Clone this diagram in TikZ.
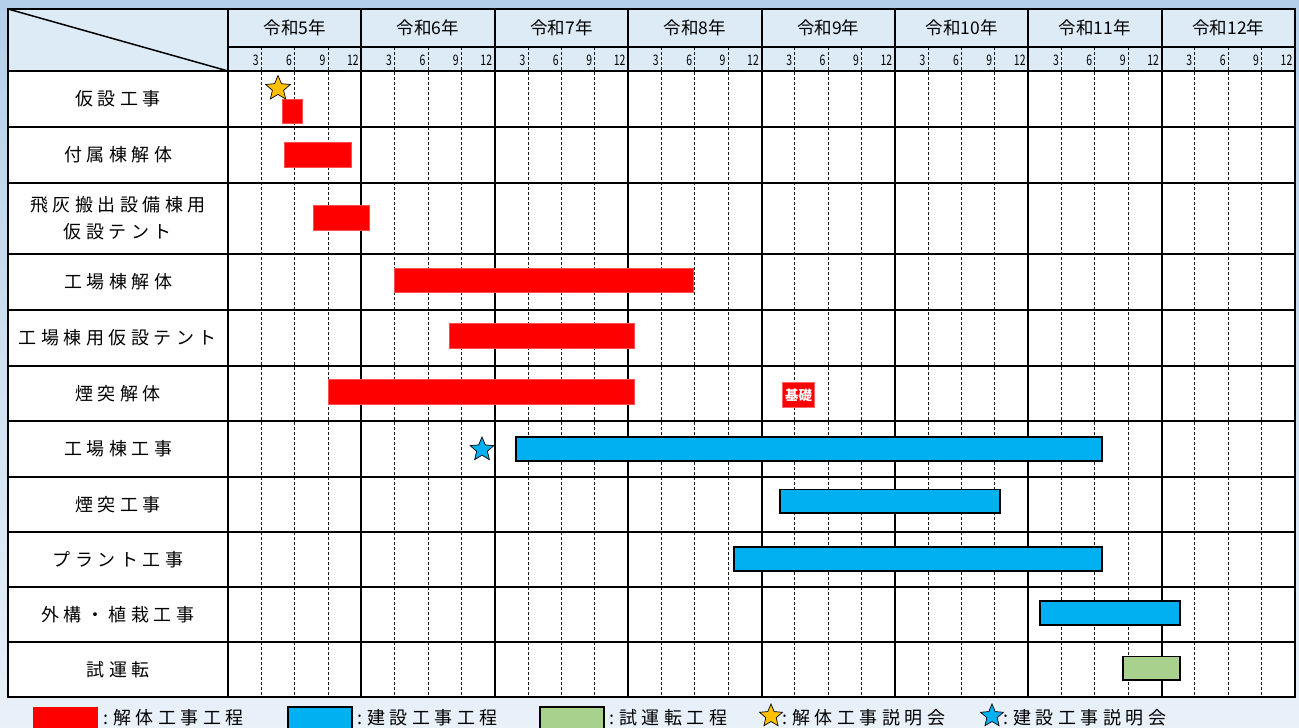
\documentclass[tikz,border=0pt]{standalone}
\usepackage{fontspec}
\setmainfont{Noto Sans CJK JP}
\newfontfamily\monthfont[FakeStretch=0.72]{Noto Sans CJK JP}
\usetikzlibrary{shapes.geometric}
\definecolor{bgtop}{HTML}{B4CFE9}
\definecolor{bgbot}{HTML}{E9F1F9}
\definecolor{hdr}{HTML}{DDEBF7}
\definecolor{barred}{HTML}{FF0000}
\definecolor{barblue}{HTML}{00B0F0}
\definecolor{bargreen}{HTML}{A9D18E}
\definecolor{staryel}{HTML}{FFC000}
\newdimen\lsk \lsk=4.5pt
\let\lsstop\relax
\def\lsloop#1{\ifx\lsstop#1\else#1\kern\lsk\expandafter\lsloop\fi}
\newcommand\spc[1]{\lsloop#1\lsstop\unkern}
\begin{document}
\begin{tikzpicture}[x=1pt,y=-1pt,
  rowlbl/.style={font=\fontsize{18}{27}\selectfont, inner sep=0, align=center, text=black},
  yearlbl/.style={font=\fontsize{17.5}{20}\selectfont, inner sep=0, text=black},
  monlbl/.style={font=\monthfont\fontsize{14.5}{15}\selectfont, inner sep=0, anchor=east, text=black},
  gridh/.style={line width=2pt, black},
  gridv/.style={line width=2pt, black},
  quarter/.style={line width=1pt, dash pattern=on 3pt off 2pt, black!90},
  redbar/.style={fill=barred, draw=barred!70!white, line width=0.6pt},
  bluebar/.style={fill=barblue, draw=black, line width=1.6pt},
  greenbar/.style={fill=bargreen, draw=black, line width=1.6pt},
  starshape/.style={star, star points=5, star point ratio=2.2, minimum size=26pt, inner sep=0, draw=black, line width=0.7pt},
  leglbl/.style={font=\fontsize{18}{20}\selectfont, inner sep=0, anchor=west, text=black},
]
\useasboundingbox (0,0) rectangle (1299,728);
% background
\shade[top color=bgtop, bottom color=bgbot] (0,0) rectangle (1299,728);
% table fills
\fill[hdr] (8,9) rectangle (1295,71);
\fill[white] (8,71) rectangle (1295,697);
% quarter dashed lines
\foreach \i in {0,...,7}{
  \foreach \q in {1,2,3}{
    \pgfmathsetmacro\xx{228+133.375*\i+33.344*\q}
    \draw[quarter] (\xx,47) -- (\xx,697);
  }
}
% horizontal grid lines
\foreach \yy in {71,127,183,254,310,366,421,477,532,587,642}{
  \draw[gridh] (8,\yy) -- (1295,\yy);
}
\draw[line width=1.6pt] (228,47) -- (1295,47);
% year lines
\foreach \i in {0,...,7}{
  \pgfmathsetmacro\xx{228+133.375*\i}
  \draw[gridv] (\xx,9) -- (\xx,697);
}
% diagonal
\draw[line width=1.5pt] (8,9) -- (228,71);
% outer border
\draw[line width=2.6pt] (8,9) rectangle (1295,697);
% year labels
\foreach \i/\n in {0/5,1/6,2/7,3/8,4/9,5/10,6/11,7/12}{
  \pgfmathsetmacro\xx{228+133.375*\i+66.69}
  \node[yearlbl] (y\i) at (\xx,28) {令和\n 年};
}
% month labels
\foreach \i in {0,...,7}{
  \foreach \q/\m in {1/3,2/6,3/9,4/12}{
    \pgfmathsetmacro\xx{228+133.375*\i+33.344*\q-2.5}
    \node[monlbl] (m\i\q) at (\xx,60) {\m};
  }
}
% row labels
\node[rowlbl] (r1) at (118,99) {\spc{仮設工事}};
\node[rowlbl] (r2) at (118,155) {\spc{付属棟解体}};
\node[rowlbl] (r3) at (118,218) {\spc{飛灰搬出設備棟用}\\\spc{仮設テント}};
\node[rowlbl] (r4) at (118,282) {\spc{工場棟解体}};
\node[rowlbl] (r5) at (118,338) {\spc{工場棟用仮設テント}};
\node[rowlbl] (r6) at (118,393.5) {\spc{煙突解体}};
\node[rowlbl] (r7) at (118,449) {\spc{工場棟工事}};
\node[rowlbl] (r8) at (118,504.5) {\spc{煙突工事}};
\node[rowlbl] (r9) at (118,559.5) {\spc{プラント工事}};
\node[rowlbl] (r10) at (118,614.5) {\spc{外構・植栽工事}};
\node[rowlbl] (r11) at (118,669.5) {\spc{試運転}};
% red bars
\draw[redbar] (282.5,99.5) rectangle (302.5,123.5);
\draw[redbar] (284,142.5) rectangle (351,167);
\draw[redbar] (313,205.5) rectangle (369,230);
\draw[redbar] (394,268) rectangle (693,292);
\draw[redbar] (449,323.5) rectangle (634,348);
\draw[redbar] (328,379.5) rectangle (634,404);
\node[fill=barred, draw=barred!60!white, line width=0.6pt, minimum width=32pt, minimum height=24.5pt, inner sep=0, text=white, font=\bfseries\fontsize{13.5}{14}\selectfont] (kiso) at (798.5,395) {基礎};
% blue bars
\draw[bluebar] (516,437) rectangle (1102,461);
\draw[bluebar] (780,489.5) rectangle (1000,513);
\draw[bluebar] (734,547) rectangle (1102,571);
\draw[bluebar] (1040,601) rectangle (1180,625);
% green bar
\draw[greenbar] (1123,656.5) rectangle (1180,680);
% stars
\node[starshape, fill=staryel] (s1) at (278,88.5) {};
\node[starshape, fill=barblue, minimum size=25pt] (s2) at (482,449.5) {};
% legend
\fill[barred] (33,707) rectangle (98,730);
\node[leglbl] (l1) at (103,717.5) {:\kern5pt\spc{解体工事工程}};
\draw[fill=barblue, line width=1.8pt] (288,707) rectangle (352,729);
\node[leglbl] (l2) at (357,717.5) {:\kern5pt\spc{建設工事工程}};
\draw[fill=bargreen, line width=1.8pt] (540,707) rectangle (604,729);
\node[leglbl] (l3) at (609,717.5) {:\kern5pt\spc{試運転工程}};
\node[starshape, fill=staryel, minimum size=24pt] (ls1) at (771,716) {};
\node[leglbl] (l4) at (782,717.5) {:\kern5pt\spc{解体工事説明会}};
\node[starshape, fill=barblue, minimum size=24pt] (ls2) at (992,716) {};
\node[leglbl] (l5) at (1003,717.5) {:\kern5pt\spc{建設工事説明会}};
\end{tikzpicture}
\end{document}
